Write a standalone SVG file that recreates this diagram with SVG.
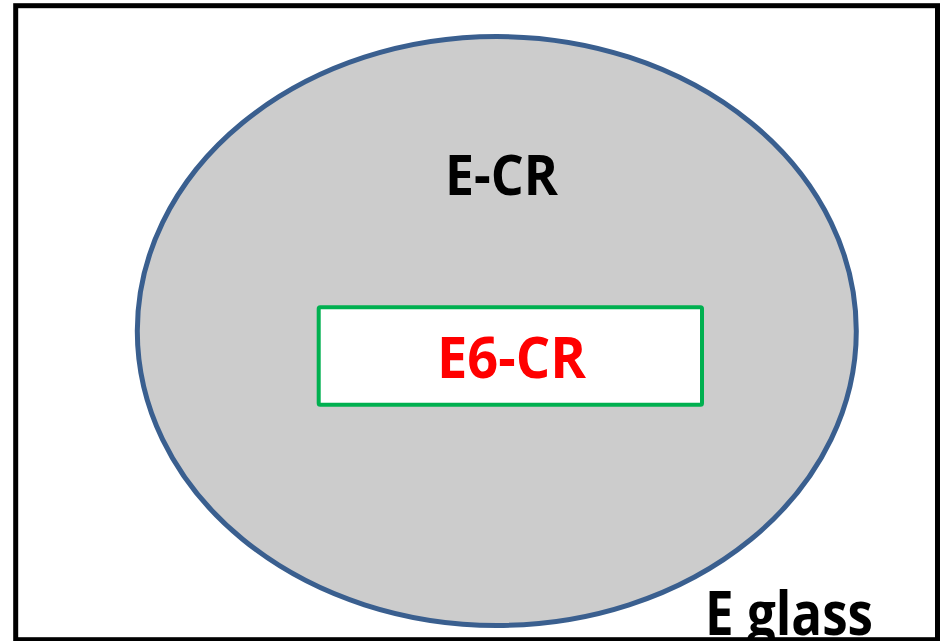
<svg xmlns="http://www.w3.org/2000/svg" width="943" height="641" viewBox="0 0 943 641">
  <style>
    .lbl { font-family: "Open Sans", "Liberation Sans", Arial, sans-serif; font-weight: bold; }
  </style>
  <rect x="0" y="0" width="943" height="641" fill="#FFFFFF"/>
  <g id="e-glass">
    <rect x="15.7" y="5.7" width="921.8" height="634" fill="#FFFFFF" stroke="#000000" stroke-width="5"/>
    <text class="lbl" x="705" y="635" font-size="60" textLength="168" lengthAdjust="spacingAndGlyphs" fill="#000000">E glass</text>
  </g>
  <g id="e-cr">
    <ellipse cx="496.8" cy="331" rx="359.5" ry="294.5" fill="#CCCCCC" stroke="#3A5F8F" stroke-width="5"/>
    <text class="lbl" x="445" y="195" font-size="56" textLength="113" lengthAdjust="spacingAndGlyphs" fill="#000000">E-CR</text>
  </g>
  <g id="e6-cr">
    <rect x="318.7" y="307.3" width="383.3" height="97.4" fill="#FFFFFF" stroke="#00B050" stroke-width="4" rx="1.5"/>
    <text class="lbl" x="437" y="378.3" font-size="58" textLength="149" lengthAdjust="spacingAndGlyphs" fill="#FF0000">E6-CR</text>
  </g>
  <g id="connectors"/>
</svg>
